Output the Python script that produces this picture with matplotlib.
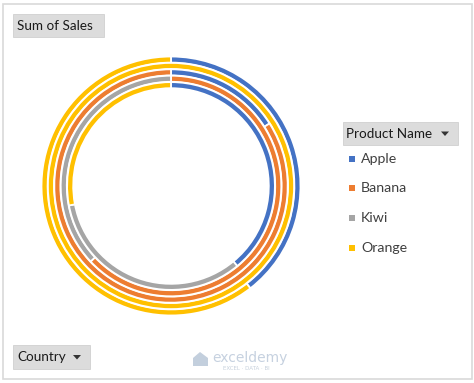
import matplotlib
matplotlib.use("Agg")
import matplotlib.pyplot as plt
from matplotlib.patches import Rectangle, Polygon

# ---- data ----
products = ["Apple", "Banana", "Kiwi", "Orange"]
colors = ["#4472C4", "#ED7D31", "#A5A5A5", "#FFC000"]
countries = ["Country 1", "Country 2", "Country 3", "Country 4", "Country 5"]  # outer -> inner
apple  = [3950, 0,    1600, 0,    3900]
banana = [0,    0,    8400, 6300, 0]
kiwi   = [0,    0,    0,    3700, 3300]
orange = [6050, 5000, 0,    0,    2800]

W, H = 474, 383
fig = plt.figure(figsize=(W / 100, H / 100), dpi=100)
fig.patch.set_facecolor("white")

def fx(x):
    return x / W

def fy(y):
    return 1 - y / H

# chart border
fig.add_artist(Rectangle((fx(2.5), fy(379)), fx(469.5), (379 - 4) / H,
                         transform=fig.transFigure, fill=False,
                         edgecolor="#d9d9d9", linewidth=1.2))

# doughnut axes
cx, cy, R = 171, 186, 130
ax = fig.add_axes([fx(cx - R), fy(cy + R), 2 * R / W, 2 * R / H])
ax.set_xlim(-1, 1)
ax.set_ylim(-1, 1)
ax.set_aspect("equal")
ax.axis("off")

outer = 129.5 / R
step = 6.4 / R
width = 6.1 / R
series = list(zip(apple, banana, kiwi, orange))
for i, vals in enumerate(series):
    v = [val for val in vals if val > 0]
    c = [col for val, col in zip(vals, colors) if val > 0]
    ax.pie(v, colors=c, radius=outer - i * step, startangle=90, counterclock=False,
           wedgeprops=dict(width=width, edgecolor="white", linewidth=1.3),
           normalize=True)
ax.set_xlim(-1, 1)
ax.set_ylim(-1, 1)

font = "Lato"

def button(x0, y0, x1, y1, label, arrow=False, tx=None):
    fig.add_artist(Rectangle((fx(x0), fy(y1)), (x1 - x0) / W, (y1 - y0) / H,
                             transform=fig.transFigure, facecolor="#dcdcdc",
                             edgecolor="#d0d0d0", linewidth=0.6))
    fig.text(fx(tx if tx else x0 + 4), fy((y0 + y1) / 2), label, ha="left", va="center",
             fontsize=9.7, family=font, color="#1a1a1a")
    if arrow:
        ax_ = x1 - 13
        ay = (y0 + y1) / 2
        fig.add_artist(Polygon([(fx(ax_ - 4), fy(ay - 2)), (fx(ax_ + 4), fy(ay - 2)),
                                (fx(ax_), fy(ay + 2.5))], closed=True,
                               transform=fig.transFigure, facecolor="#333333",
                               edgecolor="none"))

button(13, 14, 104, 37, "Sum of Sales", tx=17)
button(343, 122, 458, 145, "Product Name", arrow=True, tx=346)
button(13, 345, 90, 369, "Country", arrow=True, tx=17)

# legend
leg_y = [159, 188, 218, 248]
for name, col, y in zip(products, colors, leg_y):
    fig.add_artist(Rectangle((fx(349), fy(y + 3)), 6 / W, 6 / H,
                             transform=fig.transFigure, facecolor=col, edgecolor="none"))
    fig.text(fx(361), fy(y), name, ha="left", va="center", fontsize=10.2,
             family=font, color="#404040")

# watermark
fig.text(fx(212), fy(358), "exceldemy", ha="left", va="center", fontsize=10,
         family="DejaVu Sans", color="#b8c6d8", alpha=0.8)
fig.text(fx(246), fy(369), "EXCEL · DATA · BI", ha="center", va="center", fontsize=4,
         family="DejaVu Sans", color="#c6d0dc")
fig.add_artist(Polygon([(fx(193), fy(366)), (fx(193), fy(358)), (fx(200), fy(352)),
                        (fx(208), fy(358)), (fx(208), fy(366))], closed=True,
                       transform=fig.transFigure, facecolor="#c3cfdd", edgecolor="none"))

fig.savefig("out.png", dpi=100, facecolor="white")
